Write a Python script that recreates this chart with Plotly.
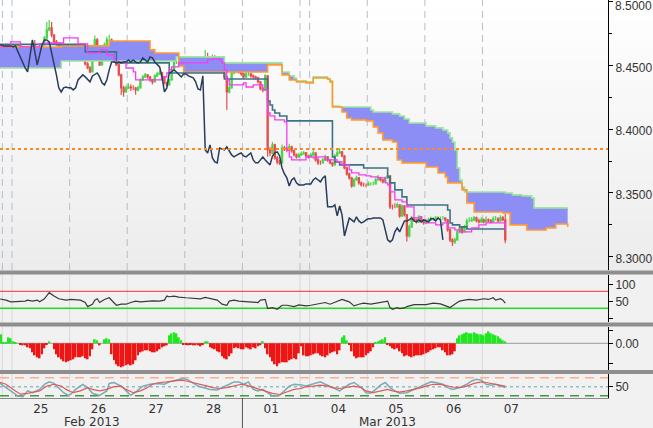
import plotly.graph_objects as go

# ---------------- time axis (hourly bars, bar 0 = 25 Feb 2013 00:00) ----------------
FIRST_BAR = -6
ICHIMOKU_SHIFT = 26
day_break_bar = [-4.5, -0.5, 23.5, 47.5, 71.5, 95.5, 119.5, 123.5, 147.5, 171.5, 195.5]
day_label_bar = [11.5, 35.5, 59.5, 83.5, 107.5, 135.5, 159.5, 183.5, 207.5]
day_label_text = ["25", "26", "27", "28", "01", "04", "05", "06", "07"]
month_label_bar = [32.8, 156.0]
month_label_text = ["Feb 2013", "Mar 2013"]
month_break_bar = 95.5

price_ticks = [8.30, 8.35, 8.40, 8.45, 8.50]
price_minor_ticks = [8.325, 8.375, 8.425, 8.475]
ref_price_level = 8.3845

# ---------------- hourly OHLC ----------------
bar_open = [
    8.4650, 8.4637, 8.4645, 8.4637, 8.4653, 8.4629, 8.4645, 8.4653, 8.4637, 8.4661, 8.4645, 8.4622,
    8.4637, 8.4606, 8.4629, 8.4661, 8.4622, 8.4606, 8.4637, 8.4661, 8.4716, 8.4778, 8.4794, 8.4739,
    8.4684, 8.4669, 8.4653, 8.4661, 8.4661, 8.4653, 8.4653, 8.4653, 8.4653, 8.4645, 8.4653, 8.4606,
    8.4559, 8.4512, 8.4480, 8.4449, 8.4582, 8.4700, 8.4606, 8.4504, 8.4582, 8.4661, 8.4700, 8.4700,
    8.4684, 8.4606, 8.4504, 8.4426, 8.4324, 8.4292, 8.4324, 8.4331, 8.4324, 8.4324, 8.4308, 8.4324,
    8.4386, 8.4410, 8.4426, 8.4410, 8.4386, 8.4371, 8.4418, 8.4433, 8.4441, 8.4410, 8.4363, 8.4347,
    8.4386, 8.4465, 8.4527, 8.4527, 8.4520, 8.4527, 8.4520, 8.4527, 8.4527, 8.4543, 8.4527, 8.4543,
    8.4527, 8.4520, 8.4527, 8.4559, 8.4543, 8.4527, 8.4567, 8.4559, 8.4527, 8.4504, 8.4488, 8.4410,
    8.4292, 8.4324, 8.4441, 8.4449, 8.4465, 8.4449, 8.4433, 8.4410, 8.4433, 8.4433, 8.4418, 8.4410,
    8.4402, 8.4371, 8.4316, 8.4308, 8.4418, 8.3838, 8.3814, 8.3877, 8.3775, 8.3743, 8.3736, 8.3853,
    8.3845, 8.3838, 8.3861, 8.3830, 8.3798, 8.3783, 8.3798, 8.3806, 8.3814, 8.3790, 8.3783, 8.3798,
    8.3814, 8.3759, 8.3736, 8.3736, 8.3759, 8.3783, 8.3759, 8.3736, 8.3720, 8.3790, 8.3814, 8.3822,
    8.3790, 8.3696, 8.3649, 8.3618, 8.3555, 8.3602, 8.3618, 8.3579, 8.3563, 8.3563, 8.3563, 8.3571,
    8.3571, 8.3571, 8.3602, 8.3618, 8.3602, 8.3587, 8.3618, 8.3634, 8.3391, 8.3391, 8.3391, 8.3406,
    8.3320, 8.3398, 8.3328, 8.3163, 8.3234, 8.3304, 8.3289, 8.3273, 8.3312, 8.3281, 8.3265, 8.3273,
    8.3289, 8.3297, 8.3297, 8.3304, 8.3304, 8.3304, 8.3304, 8.3289, 8.3210, 8.3132, 8.3116, 8.3132,
    8.3195, 8.3226, 8.3195, 8.3234, 8.3281, 8.3281, 8.3289, 8.3304, 8.3281, 8.3273, 8.3289, 8.3273,
    8.3289, 8.3281, 8.3273, 8.3297, 8.3297, 8.3281, 8.3304, 8.3289,
]
bar_high = [
    8.4656, 8.4652, 8.4649, 8.4660, 8.4657, 8.4651, 8.4664, 8.4658, 8.4668, 8.4666, 8.4650, 8.4644,
    8.4642, 8.4636, 8.4675, 8.4700, 8.4633, 8.4645, 8.4672, 8.4730, 8.4841, 8.4857, 8.4841, 8.4745,
    8.4700, 8.4680, 8.4676, 8.4670, 8.4668, 8.4662, 8.4665, 8.4660, 8.4664, 8.4668, 8.4658, 8.4615,
    8.4570, 8.4525, 8.4495, 8.4600, 8.4735, 8.4715, 8.4612, 8.4600, 8.4680, 8.4725, 8.4740, 8.4712,
    8.4690, 8.4615, 8.4512, 8.4435, 8.4340, 8.4345, 8.4360, 8.4350, 8.4345, 8.4330, 8.4340, 8.4398,
    8.4425, 8.4440, 8.4433, 8.4418, 8.4395, 8.4430, 8.4450, 8.4460, 8.4448, 8.4418, 8.4372, 8.4395,
    8.4478, 8.4545, 8.4545, 8.4540, 8.4548, 8.4535, 8.4552, 8.4545, 8.4560, 8.4555, 8.4565, 8.4552,
    8.4540, 8.4548, 8.4620, 8.4600, 8.4565, 8.4585, 8.4580, 8.4565, 8.4535, 8.4512, 8.4495, 8.4418,
    8.4345, 8.4455, 8.4470, 8.4480, 8.4472, 8.4458, 8.4440, 8.4445, 8.4450, 8.4440, 8.4428, 8.4420,
    8.4410, 8.4378, 8.4330, 8.4430, 8.4425, 8.3860, 8.3900, 8.3885, 8.3790, 8.3760, 8.3880, 8.3870,
    8.3860, 8.3885, 8.3870, 8.3840, 8.3810, 8.3815, 8.3825, 8.3830, 8.3822, 8.3800, 8.3815, 8.3835,
    8.3820, 8.3770, 8.3755, 8.3775, 8.3800, 8.3790, 8.3765, 8.3745, 8.3805, 8.3840, 8.3850, 8.3830,
    8.3798, 8.3705, 8.3660, 8.3625, 8.3615, 8.3635, 8.3625, 8.3590, 8.3580, 8.3575, 8.3590, 8.3585,
    8.3588, 8.3620, 8.3640, 8.3625, 8.3610, 8.3630, 8.3650, 8.3640, 8.3410, 8.3420, 8.3425, 8.3412,
    8.3410, 8.3405, 8.3335, 8.3250, 8.3320, 8.3312, 8.3300, 8.3325, 8.3320, 8.3290, 8.3290, 8.3305,
    8.3315, 8.3310, 8.3320, 8.3318, 8.3315, 8.3320, 8.3310, 8.3295, 8.3220, 8.3145, 8.3150, 8.3210,
    8.3245, 8.3235, 8.3250, 8.3300, 8.3310, 8.3312, 8.3320, 8.3315, 8.3300, 8.3310, 8.3300, 8.3315,
    8.3300, 8.3295, 8.3318, 8.3320, 8.3310, 8.3325, 8.3320, 8.3335,
]
bar_low = [
    8.4630, 8.4633, 8.4630, 8.4634, 8.4622, 8.4625, 8.4640, 8.4630, 8.4633, 8.4638, 8.4614, 8.4617,
    8.4598, 8.4600, 8.4625, 8.4559, 8.4595, 8.4600, 8.4630, 8.4655, 8.4708, 8.4770, 8.4720, 8.4660,
    8.4655, 8.4640, 8.4645, 8.4650, 8.4645, 8.4644, 8.4640, 8.4641, 8.4638, 8.4640, 8.4596, 8.4550,
    8.4500, 8.4470, 8.4440, 8.4445, 8.4575, 8.4598, 8.4495, 8.4498, 8.4578, 8.4655, 8.4685, 8.4670,
    8.4598, 8.4495, 8.4415, 8.4269, 8.4255, 8.4285, 8.4315, 8.4300, 8.4308, 8.4270, 8.4298, 8.4318,
    8.4380, 8.4402, 8.4395, 8.4372, 8.4350, 8.4365, 8.4410, 8.4425, 8.4398, 8.4350, 8.4330, 8.4340,
    8.4380, 8.4458, 8.4512, 8.4505, 8.4510, 8.4500, 8.4512, 8.4508, 8.4515, 8.4510, 8.4520, 8.4505,
    8.4500, 8.4508, 8.4520, 8.4530, 8.4510, 8.4520, 8.4540, 8.4515, 8.4490, 8.4470, 8.4395, 8.4151,
    8.4280, 8.4318, 8.4430, 8.4440, 8.4435, 8.4420, 8.4395, 8.4402, 8.4420, 8.4405, 8.4395, 8.4390,
    8.4360, 8.4305, 8.4290, 8.4300, 8.3783, 8.3790, 8.3805, 8.3760, 8.3725, 8.3720, 8.3730, 8.3830,
    8.3820, 8.3830, 8.3815, 8.3785, 8.3770, 8.3775, 8.3790, 8.3800, 8.3780, 8.3770, 8.3775, 8.3790,
    8.3745, 8.3720, 8.3722, 8.3730, 8.3750, 8.3745, 8.3725, 8.3705, 8.3715, 8.3785, 8.3805, 8.3780,
    8.3685, 8.3635, 8.3605, 8.3540, 8.3548, 8.3595, 8.3565, 8.3550, 8.3548, 8.3545, 8.3555, 8.3558,
    8.3560, 8.3565, 8.3595, 8.3590, 8.3575, 8.3580, 8.3610, 8.3375, 8.3370, 8.3380, 8.3385, 8.3305,
    8.3312, 8.3315, 8.3120, 8.3150, 8.3225, 8.3275, 8.3260, 8.3265, 8.3270, 8.3250, 8.3255, 8.3265,
    8.3280, 8.3285, 8.3290, 8.3292, 8.3290, 8.3290, 8.3275, 8.3195, 8.3115, 8.3085, 8.3100, 8.3125,
    8.3185, 8.3180, 8.3190, 8.3228, 8.3270, 8.3275, 8.3280, 8.3270, 8.3260, 8.3265, 8.3260, 8.3268,
    8.3270, 8.3262, 8.3268, 8.3285, 8.3270, 8.3275, 8.3280, 8.3105,
]
bar_close = [
    8.4637, 8.4645, 8.4637, 8.4653, 8.4629, 8.4645, 8.4653, 8.4637, 8.4661, 8.4645, 8.4622, 8.4637,
    8.4606, 8.4629, 8.4661, 8.4622, 8.4606, 8.4637, 8.4661, 8.4716, 8.4778, 8.4794, 8.4739, 8.4684,
    8.4669, 8.4653, 8.4661, 8.4661, 8.4653, 8.4653, 8.4653, 8.4653, 8.4645, 8.4653, 8.4606, 8.4559,
    8.4512, 8.4480, 8.4449, 8.4582, 8.4700, 8.4606, 8.4504, 8.4582, 8.4661, 8.4700, 8.4700, 8.4684,
    8.4606, 8.4504, 8.4426, 8.4324, 8.4292, 8.4324, 8.4331, 8.4324, 8.4324, 8.4308, 8.4324, 8.4386,
    8.4410, 8.4426, 8.4410, 8.4386, 8.4371, 8.4418, 8.4433, 8.4441, 8.4410, 8.4363, 8.4347, 8.4386,
    8.4465, 8.4527, 8.4527, 8.4520, 8.4527, 8.4520, 8.4527, 8.4527, 8.4543, 8.4527, 8.4543, 8.4527,
    8.4520, 8.4527, 8.4559, 8.4543, 8.4527, 8.4567, 8.4559, 8.4527, 8.4504, 8.4488, 8.4410, 8.4292,
    8.4324, 8.4441, 8.4449, 8.4465, 8.4449, 8.4433, 8.4410, 8.4433, 8.4433, 8.4418, 8.4410, 8.4402,
    8.4371, 8.4316, 8.4308, 8.4418, 8.3838, 8.3814, 8.3877, 8.3775, 8.3743, 8.3736, 8.3853, 8.3845,
    8.3838, 8.3861, 8.3830, 8.3798, 8.3783, 8.3798, 8.3806, 8.3814, 8.3790, 8.3783, 8.3798, 8.3814,
    8.3759, 8.3736, 8.3736, 8.3759, 8.3783, 8.3759, 8.3736, 8.3720, 8.3790, 8.3814, 8.3822, 8.3790,
    8.3696, 8.3649, 8.3618, 8.3555, 8.3602, 8.3618, 8.3579, 8.3563, 8.3563, 8.3563, 8.3571, 8.3571,
    8.3571, 8.3602, 8.3618, 8.3602, 8.3587, 8.3618, 8.3634, 8.3391, 8.3391, 8.3391, 8.3406, 8.3320,
    8.3398, 8.3328, 8.3163, 8.3234, 8.3304, 8.3289, 8.3273, 8.3312, 8.3281, 8.3265, 8.3273, 8.3289,
    8.3297, 8.3297, 8.3304, 8.3304, 8.3304, 8.3304, 8.3289, 8.3210, 8.3132, 8.3116, 8.3132, 8.3195,
    8.3226, 8.3195, 8.3234, 8.3281, 8.3281, 8.3289, 8.3304, 8.3281, 8.3273, 8.3289, 8.3273, 8.3289,
    8.3281, 8.3273, 8.3297, 8.3297, 8.3281, 8.3304, 8.3289, 8.3132,
]

# ---------------- Ichimoku lines (step values, change at given bar) ----------------
tenkan_bar = [-6, -1, 3, 11, 14, 21, 27, 31, 36, 39, 42, 47, 50, 51, 62, 64, 65, 66, 69, 81, 83, 86,
              87, 88, 89, 90, 96, 97, 100, 104, 106, 107, 109, 113, 114, 115, 116, 122, 125, 127, 130,
              135, 137, 140, 141, 144, 147, 149, 152, 155, 156, 157, 159, 162, 164, 167, 170, 172, 176,
              179, 181, 184, 186, 191, 194, 197, 205]
tenkan_val = [8.4645, 8.4684, 8.4645, 8.4669, 8.4676, 8.4716, 8.4669, 8.4598, 8.4622, 8.4582, 8.4527,
              8.4480, 8.4449, 8.4386, 8.4410, 8.4441, 8.4465, 8.4488, 8.4520, 8.4543, 8.4551, 8.4543,
              8.4520, 8.4465, 8.4386, 8.4347, 8.4363, 8.4331, 8.4347, 8.4308, 8.4127, 8.4104, 8.4073,
              8.4057, 8.3838, 8.3783, 8.3759, 8.3783, 8.3775, 8.3783, 8.3759, 8.3743, 8.3720, 8.3681,
              8.3657, 8.3642, 8.3634, 8.3626, 8.3618, 8.3579, 8.3563, 8.3508, 8.3446, 8.3430, 8.3391,
              8.3304, 8.3289, 8.3265, 8.3250, 8.3265, 8.3226, 8.3210, 8.3195, 8.3226, 8.3250, 8.3265,
              8.3210]
kijun_bar = [-6, 30, 43, 65, 88, 106, 107, 108, 109, 111, 114, 133, 134, 136, 146, 156, 157, 159,
             162, 164, 181, 182, 183, 186, 189, 205]
kijun_val = [8.4665, 8.4606, 8.4520, 8.4441, 8.4394, 8.4221, 8.4190, 8.4151, 8.4127, 8.4104, 8.4065,
             8.3783, 8.3743, 8.3720, 8.3696, 8.3626, 8.3579, 8.3524, 8.3469, 8.3406, 8.3367, 8.3265,
             8.3250, 8.3234, 8.3218, 8.3218]
senkou_a_bar = [-6, 20, 40, 57, 59, 69, 71, 106, 112, 115, 118, 122, 125, 131, 132, 133, 137, 139,
                141, 147, 150, 152, 154, 158, 160, 162, 172, 177, 180, 181, 187, 189, 192, 204, 207,
                214, 222, 226, 231]
senkou_a_val = [8.4645, 8.4653, 8.4692, 8.4622, 8.4598, 8.4496, 8.4449, 8.4504, 8.4426, 8.4386,
                8.4371, 8.4363, 8.4402, 8.4394, 8.4371, 8.4174, 8.4135, 8.4088, 8.4073, 8.4065,
                8.4018, 8.3971, 8.3916, 8.3900, 8.3759, 8.3736, 8.3704, 8.3657, 8.3626, 8.3579,
                8.3524, 8.3422, 8.3351, 8.3343, 8.3250, 8.3210, 8.3226, 8.3257, 8.3234]
senkou_b_bar = [-6, 20, 68, 88, 112, 115, 117, 118, 122, 125, 131, 132, 133, 136, 149, 150, 158, 161,
                163, 165, 172, 176, 179, 181, 182, 183, 184, 185, 186, 187, 188, 205, 208, 212, 216,
                217, 231]
senkou_b_val = [8.4480, 8.4535, 8.4567, 8.4520, 8.4449, 8.4418, 8.4402, 8.4379, 8.4371, 8.4410,
                8.4394, 8.4379, 8.4182, 8.4174, 8.4151, 8.4135, 8.4120, 8.4104, 8.4080, 8.4049,
                8.4026, 8.4010, 8.3994, 8.3971, 8.3932, 8.3900, 8.3838, 8.3696, 8.3602, 8.3547,
                8.3508, 8.3500, 8.3485, 8.3477, 8.3461, 8.3383, 8.3383]

# ---------------- lower panels ----------------
rsi_bar = [-6, -3, -1, 3, 5, 6, 8, 10, 11, 13, 15, 17, 19, 22, 24, 28, 30, 31, 33, 34, 35, 36, 38, 40,
           41, 43, 45, 47, 49, 51, 53, 56, 58, 61, 63, 64, 65, 67, 69, 72, 74, 76, 78, 80, 83, 85, 87,
           89, 90, 92, 94, 97, 100, 102, 103, 105, 106, 108, 110, 112, 114, 117, 119, 122, 124, 128,
           130, 132, 134, 136, 137, 140, 142, 144, 146, 149, 151, 153, 155, 156, 157, 158, 160, 161,
           163, 164, 167, 170, 172, 175, 178, 181, 182, 185, 186, 188, 190, 193, 196, 198, 200, 201,
           203, 204, 205]
rsi_val = [58, 54, 49, 49, 51, 54, 51, 54, 49, 58, 76, 66, 58, 54, 56, 54, 47, 35, 42, 54, 58, 47, 56,
           61, 54, 39, 42, 42, 47, 51, 49, 51, 52, 51, 54, 66, 64, 66, 63, 61, 60, 61, 58, 62, 56, 54,
           42, 39, 51, 54, 51, 49, 47, 47, 54, 56, 29, 32, 27, 39, 39, 35, 40, 37, 39, 45, 47, 42, 47,
           54, 56, 49, 37, 42, 45, 42, 45, 47, 49, 51, 32, 27, 32, 29, 31, 35, 41, 42, 41, 45, 43, 35,
           32, 47, 51, 54, 56, 54, 58, 56, 61, 54, 58, 54, 45]
rsi_upper, rsi_lower = 80, 30

macd_hist_pips = [
    8, 9, 1, 1, 6, 5, 2, 1, 0, -1, -2, -2,
    -4, -5, -9, -12, -14, -15, -11, -5, -1, 2, 0, -6,
    -11, -14, -16, -18, -19, -18, -17, -16, -14, -14, -14, -13,
    -15, -16, -13, -6, 4, 3, -2, 0, 4, 5, 4, -11,
    -17, -21, -23, -24, -23, -22, -21, -22, -21, -17, -12, -9,
    -8, -7, -7, -8, -9, -9, -8, -6, -4, -3, -2, 8,
    10, 11, 10, 6, 3, -1, -1, -2, -1, -2, -2, -2,
    -3, -1, 2, 2, -4, -5, -6, -8, -9, -13, -15, -16,
    -13, -10, -5, -4, -5, -6, -6, -4, -5, -6, -4, -5,
    -3, -2, 2, -5, -11, -14, -18, -21, -23, -20, -19, -19,
    -19, -17, -16, -15, -16, -10, -3, -12, -13, -13, -12, -11,
    -10, -10, -12, -13, -14, -12, -10, -9, -8, -11, -7, 6,
    8, 3, -1, -8, -13, -15, -14, -14, -14, -12, -10, -8,
    -4, 1, 2, 3, 4, 6, -1, -3, -5, -6, -5, -8,
    -10, -13, -12, -13, -14, -13, -12, -12, -12, -11, -10, -9,
    -7, -6, -5, -4, -4, -7, -9, -12, -12, -11, -8, 5,
    8, 9, 10, 11, 10, 10, 11, 10, 9, 9, 8, 10,
    12, 10, 9, 8, 7, 5, 3, 2,
]

stoch_k_bar = [-6, -3, 0, 2, 4, 6, 8, 11, 13, 15, 17, 19, 21, 23, 24, 26, 29, 31, 33, 36, 39, 40, 42,
               45, 47, 49, 51, 54, 57, 60, 63, 65, 68, 71, 73, 75, 77, 79, 82, 85, 88, 90, 92, 94, 96,
               98, 100, 102, 104, 106, 108, 111, 113, 115, 117, 120, 122, 125, 128, 130, 132, 134, 136,
               138, 140, 142, 145, 147, 149, 151, 153, 155, 157, 159, 161, 164, 167, 170, 172, 174, 176,
               179, 181, 183, 186, 189, 191, 193, 195, 197, 199, 201, 203, 205]
stoch_k_val = [64, 47, 30, 19, 17, 36, 30, 41, 58, 66, 61, 47, 30, 21, 25, 41, 58, 47, 28, 21, 36, 61,
               64, 52, 36, 21, 32, 52, 58, 61, 58, 66, 72, 77, 72, 61, 52, 47, 41, 39, 52, 58, 66, 66,
               58, 66, 41, 36, 41, 30, 19, 21, 36, 52, 58, 56, 52, 58, 66, 58, 52, 44, 36, 47, 58, 64,
               47, 30, 28, 41, 55, 64, 47, 36, 28, 30, 41, 52, 58, 66, 64, 58, 47, 41, 47, 58, 69, 75,
               72, 58, 55, 58, 52, 47]
stoch_d_bar = [-6, -3, 0, 3, 6, 8, 11, 14, 17, 20, 22, 25, 28, 31, 33, 36, 39, 42, 45, 47, 50, 53, 56,
               58, 61, 64, 67, 70, 72, 75, 78, 81, 83, 86, 89, 92, 95, 97, 100, 103, 106, 108, 111, 114,
               117, 120, 122, 125, 128, 131, 133, 136, 139, 142, 145, 147, 150, 153, 156, 158, 161, 164,
               167, 170, 172, 175, 178, 181, 183, 186, 189, 192, 195, 197, 199, 201, 204, 205]
stoch_d_val = [66, 58, 41, 25, 28, 32, 36, 52, 58, 52, 41, 30, 36, 47, 41, 36, 41, 50, 52, 41, 30, 36,
               47, 58, 64, 66, 69, 72, 69, 64, 58, 52, 47, 44, 47, 52, 58, 55, 47, 39, 32, 28, 24, 32,
               41, 44, 50, 52, 55, 52, 47, 44, 47, 52, 47, 36, 30, 36, 41, 36, 32, 36, 41, 47, 52, 58,
               58, 52, 49, 47, 52, 61, 66, 64, 61, 58, 55, 52]
stoch_upper, stoch_mid, stoch_lower = 80, 50, 20

# ---------------- layout geometry ----------------
FIG_W, FIG_H = 653, 428
M_L, M_R, M_T, M_B = 0, 45, 0, 30
PLOT_H = FIG_H - M_T - M_B
PLOT_W = FIG_W - M_L - M_R
X_PAPER_RIGHT = FIG_W / PLOT_W


def pv(ypx):
    return (PLOT_H - ypx) / PLOT_H


n = min(len(bar_open), len(bar_high), len(bar_low), len(bar_close))
bars = list(range(FIRST_BAR, FIRST_BAR + n))
chikou_x = [b - ICHIMOKU_SHIFT for b in bars]

FONT = "DejaVu Sans"
AXFONT = "Liberation Sans"
fig = go.Figure()

# cloud
fig.add_trace(go.Scatter(x=senkou_b_bar, y=senkou_b_val, mode="lines",
                         line=dict(color="#9de69d", width=1.6, shape="hv"), yaxis="y", hoverinfo="skip"))
fig.add_trace(go.Scatter(x=senkou_a_bar, y=senkou_a_val, mode="lines", fill="tonexty",
                         fillcolor="rgb(141,141,246)",
                         line=dict(color="#ff9933", width=1.6, shape="hv"), yaxis="y", hoverinfo="skip"))
# candles
fig.add_trace(go.Candlestick(x=bars, open=bar_open[:n], high=bar_high[:n], low=bar_low[:n],
                             close=bar_close[:n], yaxis="y", whiskerwidth=0, opacity=0.9,
                             increasing=dict(line=dict(color="#36d236", width=1.2), fillcolor="#36d236"),
                             decreasing=dict(line=dict(color="#e63c3c", width=1.2), fillcolor="#e63c3c")))
# lines
fig.add_trace(go.Scatter(x=kijun_bar, y=kijun_val, mode="lines",
                         line=dict(color="#3d7385", width=1.6, shape="hv"), yaxis="y"))
fig.add_trace(go.Scatter(x=tenkan_bar, y=tenkan_val, mode="lines",
                         line=dict(color="#f23cf2", width=1.3, shape="hv"), yaxis="y"))
fig.add_trace(go.Scatter(x=chikou_x, y=bar_close[:n], mode="lines",
                         line=dict(color="#283c5c", width=1.5), yaxis="y"))

# RSI
fig.add_trace(go.Scatter(x=rsi_bar, y=rsi_val, mode="lines",
                         line=dict(color="#3a3a3a", width=1.2), yaxis="y2"))
# MACD histogram
m = min(n, len(macd_hist_pips))
fig.add_trace(go.Bar(x=bars[:m], y=macd_hist_pips[:m], width=0.75, yaxis="y3",
                     marker=dict(color=["#1fe81f" if v >= 0 else "#ee1515" for v in macd_hist_pips[:m]],
                                 line=dict(width=0))))
# Stochastic
fig.add_trace(go.Scatter(x=stoch_k_bar, y=stoch_k_val, mode="lines",
                         line=dict(color="#7aabb3", width=1.5), yaxis="y4"))
fig.add_trace(go.Scatter(x=stoch_d_bar, y=stoch_d_val, mode="lines",
                         line=dict(color="#e05a5a", width=1.2), yaxis="y4"))

shapes = []
# background gradient for main panel
n_bands = 27
for i in range(n_bands):
    top = 270 * i / n_bands
    bot = 270 * (i + 1) / n_bands
    g = int(round(255 - 19 * (i + 0.5) / n_bands))
    shapes.append(dict(type="rect", xref="paper", yref="paper", x0=0, x1=X_PAPER_RIGHT,
                       y0=pv(bot), y1=pv(top), fillcolor=f"rgb({g},{g},{g})",
                       line=dict(width=0), layer="below"))
# day separators
for b in day_break_bar:
    shapes.append(dict(type="line", xref="x", yref="y domain", x0=b, x1=b, y0=0, y1=1,
                       line=dict(color="#b6bdcb", width=1, dash="7px,5px"), layer="below"))
    for ax in ["y2", "y3", "y4"]:
        shapes.append(dict(type="line", xref="x", yref=f"{ax} domain", x0=b, x1=b, y0=0, y1=1,
                           line=dict(color="#d9d9de", width=1), layer="below"))
# reference price
shapes.append(dict(type="line", xref="x domain", yref="y", x0=0, x1=1, y0=ref_price_level,
                   y1=ref_price_level, line=dict(color="#ff8a1c", width=2, dash="dot")))
# RSI levels
shapes.append(dict(type="line", xref="x domain", yref="y2", x0=0, x1=1, y0=rsi_upper, y1=rsi_upper,
                   line=dict(color="#e83232", width=1), layer="below"))
shapes.append(dict(type="line", xref="x domain", yref="y2", x0=0, x1=1, y0=rsi_lower, y1=rsi_lower,
                   line=dict(color="#1edf1e", width=1.4), layer="below"))
# MACD zero
shapes.append(dict(type="line", xref="x domain", yref="y3", x0=0, x1=1, y0=0, y1=0,
                   line=dict(color="#9c9c9c", width=1), layer="below"))
# Stochastic levels
shapes.append(dict(type="line", xref="x domain", yref="y4", x0=0, x1=1, y0=stoch_upper, y1=stoch_upper,
                   line=dict(color="#ffab90", width=1.5, dash="9px,6px"), layer="below"))
shapes.append(dict(type="line", xref="x domain", yref="y4", x0=0, x1=1, y0=stoch_lower, y1=stoch_lower,
                   line=dict(color="#3f9a3f", width=1.5, dash="9px,6px"), layer="below"))
shapes.append(dict(type="line", xref="x domain", yref="y4", x0=0, x1=1, y0=stoch_mid, y1=stoch_mid,
                   line=dict(color="#8fbfc6", width=1.5, dash="dot"), layer="below"))
# panel separator bars
for top, bot in [(270.5, 274.5), (322.5, 326.5), (370, 374)]:
    shapes.append(dict(type="rect", xref="paper", yref="paper", x0=0, x1=X_PAPER_RIGHT,
                       y0=pv(bot), y1=pv(top), fillcolor="#8e8e8e", line=dict(width=0), layer="above"))
# month separator under the axis
shapes.append(dict(type="line", xref="x", yref="paper", x0=month_break_bar, x1=month_break_bar,
                   y0=pv(FIG_H), y1=0, line=dict(color="#555555", width=1)))

annotations = [dict(x=bx, y=pv(422), xref="x", yref="paper", text=t, showarrow=False,
                    font=dict(family=FONT, size=12, color="#333333"), xanchor="center", yanchor="middle")
               for bx, t in zip(month_label_bar, month_label_text)]
# top price label placed just inside the figure (tick itself sits at the very top edge)
top_label = f"{price_ticks[-1]:.4f}"
annotations.append(dict(x=(PLOT_W + 6) / PLOT_W, y=pv(6), xref="paper", yref="paper", text=top_label,
                        showarrow=False, xanchor="left", yanchor="middle", borderpad=0,
                        font=dict(family=AXFONT, size=12, color="#333333")))

tickfont = dict(family=AXFONT, size=12, color="#333333")
common_y = dict(side="right", anchor="x", showgrid=False, zeroline=False, showline=True,
                linecolor="black", linewidth=1, ticks="outside", ticklen=4, tickcolor="black",
                tickfont=tickfont, fixedrange=True, ticklabeloverflow="allow")

fig.update_layout(
    width=FIG_W, height=FIG_H,
    margin=dict(l=M_L, r=M_R, t=M_T, b=M_B, autoexpand=False),
    paper_bgcolor="#f1f1f1", plot_bgcolor="rgba(0,0,0,0)",
    showlegend=False, shapes=shapes, annotations=annotations,
    xaxis=dict(range=[-5.5, 247.8], anchor="y4", showgrid=False, zeroline=False,
               showline=True, linecolor="#8a8a8a", linewidth=1, ticks="", tickvals=day_label_bar,
               ticktext=day_label_text, tickfont=dict(family=FONT, size=12, color="#333333"),
               rangeslider=dict(visible=False), fixedrange=True),
    yaxis=dict(domain=[pv(270), 1.0], range=[8.2896, 8.5013], tickvals=price_ticks,
               ticktext=[f"{v:.4f}" for v in price_ticks[:-1]] + [""], ticklabelshift=2,
               minor=dict(tickvals=price_minor_ticks, ticks="outside", ticklen=3, tickcolor="black"),
               **common_y),
    yaxis2=dict(domain=[pv(322), pv(275)], range=[-10.3, 127.9], tickvals=[0, 50, 100],
                ticktext=["", "50", "100"], **common_y),
    yaxis3=dict(domain=[pv(370), pv(327)], range=[-26.7, 16.3], tickvals=[-20, 0, 13],
                ticktext=["", "0.00", ""], **common_y),
    yaxis4=dict(domain=[0.0, pv(374)], range=[12.3, 92.3], tickvals=[50], ticktext=["50"], **common_y),
)

fig.write_html("out.html", config={"displayModeBar": False},
               post_script="document.body.style.margin='0';document.body.style.overflow='hidden';")
